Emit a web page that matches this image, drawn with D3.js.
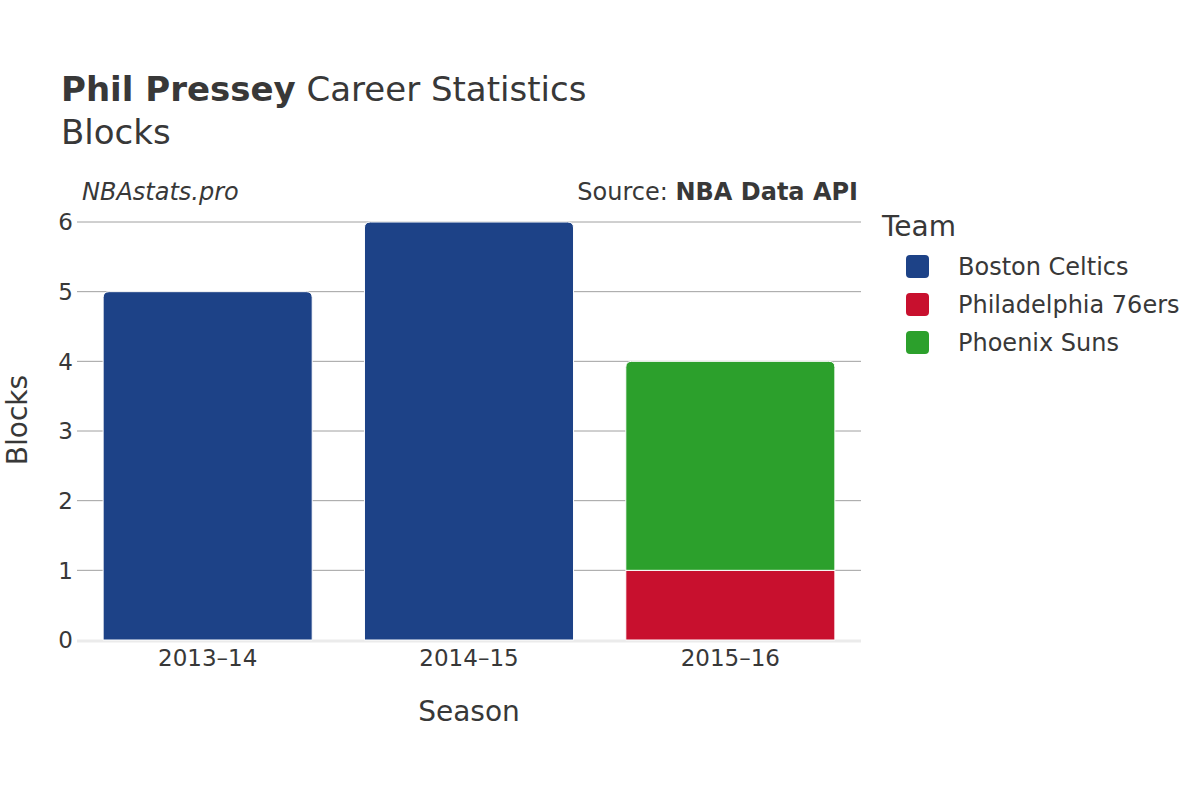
<!DOCTYPE html>
<html>
<head>
<meta charset="utf-8">
<script src="https://cdn.jsdelivr.net/npm/d3@7"></script>
<style>
  body { margin: 0; background: #fff; }
  text { font-family: "DejaVu Sans", sans-serif; fill: #383838; }
</style>
</head>
<body>
<svg></svg>
<script>
// chart size
var width = 1200;
var height = 800;

// data
var seasons = ["2013\u201314", "2014\u201315", "2015\u201316"];
var teams = ["Boston Celtics", "Philadelphia 76ers", "Phoenix Suns"];
var teamColors = ["#1d4287", "#c8102e", "#2ca02c"];
var celtics = [5, 6, 0];
var sixers = [0, 0, 1];
var suns = [0, 0, 3];
var yTicks = [0, 1, 2, 3, 4, 5, 6];

var rows = seasons.map(function(s, i) {
    return { season: s, "Boston Celtics": celtics[i], "Philadelphia 76ers": sixers[i], "Phoenix Suns": suns[i] };
});

var plot = { left: 77, right: 861, top: 222, bottom: 640 };

var x = d3.scaleBand()
    .domain(seasons)
    .range([plot.left, plot.right])
    .paddingInner(0.2)
    .paddingOuter(0.1);

var y = d3.scaleLinear()
    .domain([0, 6])
    .range([plot.bottom, plot.top]);

var color = d3.scaleOrdinal().domain(teams).range(teamColors);

var svg = d3.select("svg")
    .attr("width", width)
    .attr("height", height);

// title
var title = svg.append("text")
    .attr("x", 61)
    .attr("y", 101)
    .style("font-size", "34px");
title.append("tspan").attr("font-weight", "bold").text("Phil Pressey");
title.append("tspan").text(" Career Statistics");

svg.append("text")
    .attr("x", 61)
    .attr("y", 144)
    .style("font-size", "34px")
    .text("Blocks");

svg.append("text")
    .attr("x", 82)
    .attr("y", 200)
    .style("font-size", "24px")
    .style("font-style", "italic")
    .text("NBAstats.pro");

var src = svg.append("text")
    .attr("x", 858)
    .attr("y", 200)
    .attr("text-anchor", "end")
    .style("font-size", "24px");
src.append("tspan").text("Source: ");
src.append("tspan").attr("font-weight", "bold").text("NBA Data API");

// gridlines
svg.append("g")
    .selectAll("line")
    .data(yTicks.filter(function(d) { return d > 0; }))
    .enter().append("line")
    .attr("x1", plot.left)
    .attr("x2", plot.right)
    .attr("y1", function(d) { return y(d); })
    .attr("y2", function(d) { return y(d); })
    .style("stroke", "#a0a0a0")
    .style("stroke-width", 1);

// zero line
svg.append("line")
    .attr("x1", plot.left)
    .attr("x2", plot.right)
    .attr("y1", y(0) + 1)
    .attr("y2", y(0) + 1)
    .style("stroke", "#ebebeb")
    .style("stroke-width", 3);

// y tick labels
svg.append("g")
    .selectAll("text")
    .data(yTicks)
    .enter().append("text")
    .attr("x", 73)
    .attr("y", function(d) { return y(d); })
    .attr("dy", "0.36em")
    .attr("text-anchor", "end")
    .style("font-size", "23px")
    .text(function(d) { return d; });

// x tick labels
svg.append("g")
    .selectAll("text")
    .data(seasons)
    .enter().append("text")
    .attr("x", function(d) { return x(d) + x.bandwidth() / 2; })
    .attr("y", 666)
    .attr("text-anchor", "middle")
    .style("font-size", "23px")
    .text(function(d) { return d; });

// axis titles
svg.append("text")
    .attr("x", (plot.left + plot.right) / 2)
    .attr("y", 721)
    .attr("text-anchor", "middle")
    .style("font-size", "28px")
    .text("Season");

svg.append("text")
    .attr("transform", "translate(27,420) rotate(-90)")
    .attr("text-anchor", "middle")
    .style("font-size", "28px")
    .text("Blocks");

// stacked bars
var stacked = d3.stack().keys(teams)(rows);

// path for a bar, top corners rounded when it is the top of the stack
function barPath(x0, w, yTop, yBot, r) {
    r = Math.min(r, (yBot - yTop) / 2, w / 2);
    return "M" + x0 + "," + yBot +
        "V" + (yTop + r) +
        "Q" + x0 + "," + yTop + " " + (x0 + r) + "," + yTop +
        "H" + (x0 + w - r) +
        "Q" + (x0 + w) + "," + yTop + " " + (x0 + w) + "," + (yTop + r) +
        "V" + yBot + "Z";
}

stacked.forEach(function(layer, li) {
    svg.append("g")
        .selectAll("path")
        .data(layer.filter(function(d) { return d[1] - d[0] > 0; }))
        .enter().append("path")
        .attr("d", function(d) {
            var isTop = d[1] === d3.max(stacked, function(l) {
                var e = l.find(function(v) { return v.data.season === d.data.season; });
                return e[1] - e[0] > 0 ? e[1] : 0;
            });
            return barPath(x(d.data.season), x.bandwidth(), y(d[1]), y(d[0]), isTop ? 6 : 0);
        })
        .style("fill", color(layer.key))
        .style("stroke", "#fff")
        .style("stroke-width", 1);
});

// legend
svg.append("text")
    .attr("x", 882)
    .attr("y", 236)
    .style("font-size", "28px")
    .text("Team");

var leg = svg.append("g")
    .selectAll("g")
    .data(teams)
    .enter().append("g")
    .attr("transform", function(d, i) { return "translate(906," + (266 + i * 38) + ")"; });

leg.append("rect")
    .attr("x", 0)
    .attr("y", -11)
    .attr("width", 23)
    .attr("height", 23)
    .attr("rx", 4)
    .style("fill", function(d) { return color(d); });

leg.append("text")
    .attr("x", 52)
    .attr("y", 0)
    .attr("dy", "0.36em")
    .style("font-size", "24px")
    .text(function(d) { return d; });
</script>
</body>
</html>
